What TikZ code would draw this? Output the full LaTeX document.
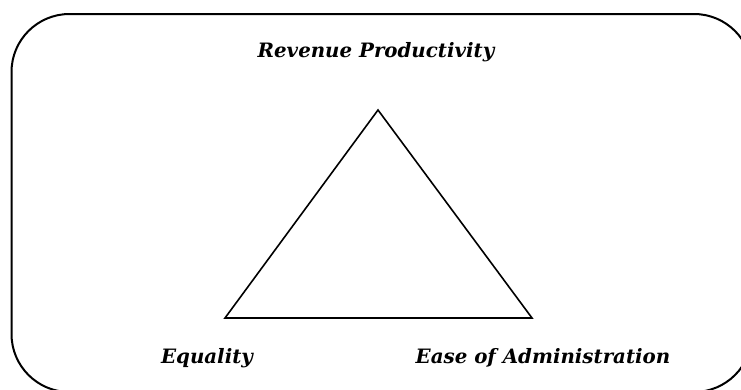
\documentclass[tikz,border=0pt]{standalone}
\usepackage{fontspec}
\newfontfamily\labelfont{DejaVu Serif}
\begin{document}
\begin{tikzpicture}[x=1pt,y=-1pt,
  frame/.style={draw=black,line width=2pt,rounded corners=58pt},
  edge/.style={draw=black,line width=1.6pt,line join=miter},
  lbl/.style={anchor=base,inner sep=0pt,font=\labelfont\bfseries\itshape\fontsize{19.8}{24}\selectfont}]
  \useasboundingbox (0,0) rectangle (741,389);
  \clip (0,0) rectangle (741,389);
  % outer rounded frame, partly running off the page
  \draw[frame] (11.5,14) rectangle (752,392);
  % triangle corners
  \coordinate (top) at (378,110);
  \coordinate (left) at (225,318);
  \coordinate (right) at (532,318);
  \draw[edge] (top) -- (right) -- (left) -- cycle;
  % labels
  \node[lbl] (rev) at (376,57) {Revenue Productivity};
  \node[lbl] (eq) at (207,363) {Equality};
  \node[lbl] (ease) at (543,363) {Ease of Administration};
\end{tikzpicture}
\end{document}
